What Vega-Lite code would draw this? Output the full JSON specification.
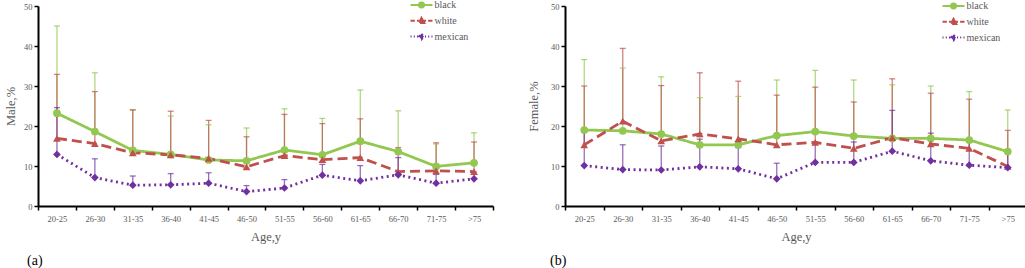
{
  "$schema": "https://vega.github.io/schema/vega-lite/v6.json",
  "padding": {"left": 4, "top": 0, "right": 0, "bottom": 0},
  "background": "white",
  "config": {
    "view": {"stroke": null},
    "font": "Liberation Serif",
    "axis": {
      "labelFont": "Liberation Serif", "labelFontSize": 8.5, "labelColor": "#595959",
      "titleFont": "Liberation Serif", "titleFontSize": 12.5, "titleColor": "#595959", "titleFontWeight": "normal",
      "domainColor": "#000000", "domainWidth": 2, "tickColor": "#000000", "tickWidth": 1.5, "tickSize": 4,
      "grid": false, "labelOverlap": false
    },
    "legend": {
      "orient": "none", "title": null, "labelFont": "Liberation Serif", "labelFontSize": 10, "labelColor": "#595959",
      "symbolSize": 49, "symbolStrokeWidth": 2, "rowPadding": 1.8, "labelOffset": 8
    }
  },
  "datasets": {
    "rates": [
      {"sex": "Male", "age": "20-25", "race": "black", "v": 23.2, "hi": 45.0},
      {"sex": "Male", "age": "26-30", "race": "black", "v": 18.6, "hi": 33.3},
      {"sex": "Male", "age": "31-35", "race": "black", "v": 13.9, "hi": 24.1},
      {"sex": "Male", "age": "36-40", "race": "black", "v": 12.9, "hi": 22.5},
      {"sex": "Male", "age": "41-45", "race": "black", "v": 11.5, "hi": 20.3},
      {"sex": "Male", "age": "46-50", "race": "black", "v": 11.3, "hi": 19.5},
      {"sex": "Male", "age": "51-55", "race": "black", "v": 14.0, "hi": 24.3},
      {"sex": "Male", "age": "56-60", "race": "black", "v": 12.8, "hi": 21.9},
      {"sex": "Male", "age": "61-65", "race": "black", "v": 16.2, "hi": 29.0},
      {"sex": "Male", "age": "66-70", "race": "black", "v": 13.6, "hi": 23.8},
      {"sex": "Male", "age": "71-75", "race": "black", "v": 9.9, "hi": 15.5},
      {"sex": "Male", "age": ">75", "race": "black", "v": 10.8, "hi": 18.3},
      {"sex": "Male", "age": "20-25", "race": "white", "v": 16.9, "hi": 32.9},
      {"sex": "Male", "age": "26-30", "race": "white", "v": 15.6, "hi": 28.6},
      {"sex": "Male", "age": "31-35", "race": "white", "v": 13.3, "hi": 24.0},
      {"sex": "Male", "age": "36-40", "race": "white", "v": 12.8, "hi": 23.7},
      {"sex": "Male", "age": "41-45", "race": "white", "v": 11.9, "hi": 21.4},
      {"sex": "Male", "age": "46-50", "race": "white", "v": 9.8, "hi": 17.3},
      {"sex": "Male", "age": "51-55", "race": "white", "v": 12.6, "hi": 22.9},
      {"sex": "Male", "age": "56-60", "race": "white", "v": 11.6, "hi": 20.6},
      {"sex": "Male", "age": "61-65", "race": "white", "v": 12.1, "hi": 21.8},
      {"sex": "Male", "age": "66-70", "race": "white", "v": 8.6, "hi": 14.6},
      {"sex": "Male", "age": "71-75", "race": "white", "v": 8.8, "hi": 15.8},
      {"sex": "Male", "age": ">75", "race": "white", "v": 8.6, "hi": 16.0},
      {"sex": "Male", "age": "20-25", "race": "mexican", "v": 12.9, "hi": 24.6},
      {"sex": "Male", "age": "26-30", "race": "mexican", "v": 7.1, "hi": 11.8},
      {"sex": "Male", "age": "31-35", "race": "mexican", "v": 5.2, "hi": 7.5},
      {"sex": "Male", "age": "36-40", "race": "mexican", "v": 5.3, "hi": 8.1},
      {"sex": "Male", "age": "41-45", "race": "mexican", "v": 5.7, "hi": 8.3},
      {"sex": "Male", "age": "46-50", "race": "mexican", "v": 3.6, "hi": 5.1},
      {"sex": "Male", "age": "51-55", "race": "mexican", "v": 4.5, "hi": 6.6},
      {"sex": "Male", "age": "56-60", "race": "mexican", "v": 7.7, "hi": 10.4},
      {"sex": "Male", "age": "61-65", "race": "mexican", "v": 6.3, "hi": 10.1},
      {"sex": "Male", "age": "66-70", "race": "mexican", "v": 7.8, "hi": 12.1},
      {"sex": "Male", "age": "71-75", "race": "mexican", "v": 5.7, "hi": 7.9},
      {"sex": "Male", "age": ">75", "race": "mexican", "v": 6.8, "hi": 8.5},
      {"sex": "Female", "age": "20-25", "race": "black", "v": 19.0, "hi": 36.6},
      {"sex": "Female", "age": "26-30", "race": "black", "v": 18.8, "hi": 34.5},
      {"sex": "Female", "age": "31-35", "race": "black", "v": 18.0, "hi": 32.3},
      {"sex": "Female", "age": "36-40", "race": "black", "v": 15.3, "hi": 27.1},
      {"sex": "Female", "age": "41-45", "race": "black", "v": 15.3, "hi": 27.4},
      {"sex": "Female", "age": "46-50", "race": "black", "v": 17.6, "hi": 31.5},
      {"sex": "Female", "age": "51-55", "race": "black", "v": 18.6, "hi": 33.9},
      {"sex": "Female", "age": "56-60", "race": "black", "v": 17.5, "hi": 31.5},
      {"sex": "Female", "age": "61-65", "race": "black", "v": 16.9, "hi": 30.3},
      {"sex": "Female", "age": "66-70", "race": "black", "v": 16.9, "hi": 30.0},
      {"sex": "Female", "age": "71-75", "race": "black", "v": 16.5, "hi": 28.6},
      {"sex": "Female", "age": ">75", "race": "black", "v": 13.6, "hi": 24.0},
      {"sex": "Female", "age": "20-25", "race": "white", "v": 15.3, "hi": 30.0},
      {"sex": "Female", "age": "26-30", "race": "white", "v": 21.2, "hi": 39.4},
      {"sex": "Female", "age": "31-35", "race": "white", "v": 16.3, "hi": 30.1},
      {"sex": "Female", "age": "36-40", "race": "white", "v": 18.0, "hi": 33.3},
      {"sex": "Female", "age": "41-45", "race": "white", "v": 16.8, "hi": 31.2},
      {"sex": "Female", "age": "46-50", "race": "white", "v": 15.3, "hi": 27.7},
      {"sex": "Female", "age": "51-55", "race": "white", "v": 15.9, "hi": 29.7},
      {"sex": "Female", "age": "56-60", "race": "white", "v": 14.4, "hi": 26.0},
      {"sex": "Female", "age": "61-65", "race": "white", "v": 17.1, "hi": 31.8},
      {"sex": "Female", "age": "66-70", "race": "white", "v": 15.5, "hi": 28.2},
      {"sex": "Female", "age": "71-75", "race": "white", "v": 14.4, "hi": 26.7},
      {"sex": "Female", "age": ">75", "race": "white", "v": 9.9, "hi": 18.9},
      {"sex": "Female", "age": "20-25", "race": "mexican", "v": 10.1, "hi": 18.5},
      {"sex": "Female", "age": "26-30", "race": "mexican", "v": 9.1, "hi": 15.3},
      {"sex": "Female", "age": "31-35", "race": "mexican", "v": 9.0, "hi": 15.0},
      {"sex": "Female", "age": "36-40", "race": "mexican", "v": 9.8, "hi": 16.7},
      {"sex": "Female", "age": "41-45", "race": "mexican", "v": 9.3, "hi": 14.6},
      {"sex": "Female", "age": "46-50", "race": "mexican", "v": 6.8, "hi": 10.7},
      {"sex": "Female", "age": "51-55", "race": "mexican", "v": 10.9, "hi": 16.0},
      {"sex": "Female", "age": "56-60", "race": "mexican", "v": 10.9, "hi": 16.0},
      {"sex": "Female", "age": "61-65", "race": "mexican", "v": 13.7, "hi": 23.9},
      {"sex": "Female", "age": "66-70", "race": "mexican", "v": 11.3, "hi": 18.2},
      {"sex": "Female", "age": "71-75", "race": "mexican", "v": 10.2, "hi": 16.0},
      {"sex": "Female", "age": ">75", "race": "mexican", "v": 9.6, "hi": 14.0}
    ]
  },
  "data": {"name": "rates"},
  "resolve": {
    "scale": {"color": "independent", "strokeDash": "independent"},
    "legend": {"color": "independent"}
  },
  "hconcat": [
    {
      "width": 455, "height": 200,
      "transform": [{"filter": "datum.sex === 'Male'"}],
      "title": {"text": "(a)", "orient": "bottom", "anchor": "start", "frame": "group", "dx": -11, "offset": 11, "fontSize": 14, "font": "Liberation Serif", "fontWeight": "normal", "color": "#000000"},
      "encoding": {
        "x": {"field": "age", "type": "nominal", "title": "Age,y",
          "scale": {"domain": ["20-25","26-30","31-35","36-40","41-45","46-50","51-55","56-60","61-65","66-70","71-75",">75"], "paddingInner": 0, "paddingOuter": 0},
          "axis": {"labelAngle": 0, "tickBand": "extent", "labelPadding": 4, "titlePadding": 8}},
        "y": {"field": "v", "type": "quantitative", "title": "Male,%", "scale": {"domain": [0, 50], "nice": false}, "axis": {"values": [0,10,20,30,40,50], "titlePadding": 6, "labelPadding": 2, "labelOverlap": false}},
        "color": {"field": "race", "type": "nominal", "scale": {"domain": ["black","white","mexican"], "range": ["#92c84f","#c0504d","#7030a0"]},
          "legend": {"legendX": 378.5, "legendY": -6,
               "encode": {"symbols": {"update": {
                 "shape": {"signal": "datum.value === 'black' ? 'M-3.14,0L3.14,0M0.75,0A0.75,0.75,0,1,1,-0.75,0A0.75,0.75,0,1,1,0.75,0Z' : datum.value === 'white' ? 'M-3.14,0L-1.9,0M-1.3,0L1.3,0M1.9,0L3.14,0M0,-0.85L0.8,0.6L-0.8,0.6Z' : 'M-3.14,0L-2.84,0M-2.2,0L-1.9,0M-1.3,0L-1.0,0M1.0,0L1.3,0M1.9,0L2.2,0M2.84,0L3.14,0M0,-0.8L0.7,0L0,0.8L-0.7,0Z'"},
                 "stroke": {"signal": "datum.value === 'black' ? '#92c84f' : datum.value === 'white' ? '#c0504d' : '#7030a0'"},
                 "fill": {"signal": "datum.value === 'black' ? '#92c84f' : datum.value === 'white' ? '#c0504d' : '#7030a0'"},
                 "strokeWidth": {"value": 2},
                 "strokeDash": {"value": []},
                 "opacity": {"value": 1}
               }}}}}
      },
      "layer": [
        {"mark": {"type": "rule", "strokeWidth": 1.3, "opacity": 0.7},
         "encoding": {"y2": {"field": "hi"}}},
        {"mark": {"type": "tick", "thickness": 1.3, "size": 6, "opacity": 0.7},
         "encoding": {"y": {"field": "hi", "type": "quantitative"}}},
        {"mark": {"type": "line", "strokeWidth": 2.8},
         "encoding": {
           "strokeDash": {"field": "race", "type": "nominal", "scale": {"domain": ["black","white","mexican"], "range": [[1,0],[10,5],[2,3.5]]}, "legend": null}
         }},
        {"transform": [{"filter": "datum.race === 'black'"}], "mark": {"type": "point", "shape": "circle", "filled": true, "size": 60, "opacity": 1}, "encoding": {}},
        {"transform": [{"filter": "datum.race === 'white'"}], "mark": {"type": "point", "shape": "triangle-up", "filled": true, "size": 60, "opacity": 1}, "encoding": {}},
        {"transform": [{"filter": "datum.race === 'mexican'"}], "mark": {"type": "point", "shape": "diamond", "filled": true, "size": 60, "opacity": 1}, "encoding": {}}
      ]
    },
    {
      "width": 462, "height": 200,
      "transform": [{"filter": "datum.sex === 'Female'"}],
      "title": {"text": "(b)", "orient": "bottom", "anchor": "start", "frame": "group", "dx": -15, "offset": 11, "fontSize": 14, "font": "Liberation Serif", "fontWeight": "normal", "color": "#000000"},
      "encoding": {
        "x": {"field": "age", "type": "nominal", "title": "Age,y",
          "scale": {"domain": ["20-25","26-30","31-35","36-40","41-45","46-50","51-55","56-60","61-65","66-70","71-75",">75"], "paddingInner": 0, "paddingOuter": 0},
          "axis": {"labelAngle": 0, "tickBand": "extent", "labelPadding": 4, "titlePadding": 8}},
        "y": {"field": "v", "type": "quantitative", "title": "Female,%", "scale": {"domain": [0, 50], "nice": false}, "axis": {"values": [0,10,20,30,40,50], "titlePadding": 10, "labelPadding": 2, "labelOverlap": false}},
        "color": {"field": "race", "type": "nominal", "scale": {"domain": ["black","white","mexican"], "range": ["#92c84f","#c0504d","#7030a0"]},
          "legend": {"legendX": 383.5, "legendY": -5,
               "encode": {"symbols": {"update": {
                 "shape": {"signal": "datum.value === 'black' ? 'M-3.14,0L3.14,0M0.75,0A0.75,0.75,0,1,1,-0.75,0A0.75,0.75,0,1,1,0.75,0Z' : datum.value === 'white' ? 'M-3.14,0L-1.9,0M-1.3,0L1.3,0M1.9,0L3.14,0M0,-0.85L0.8,0.6L-0.8,0.6Z' : 'M-3.14,0L-2.84,0M-2.2,0L-1.9,0M-1.3,0L-1.0,0M1.0,0L1.3,0M1.9,0L2.2,0M2.84,0L3.14,0M0,-0.8L0.7,0L0,0.8L-0.7,0Z'"},
                 "stroke": {"signal": "datum.value === 'black' ? '#92c84f' : datum.value === 'white' ? '#c0504d' : '#7030a0'"},
                 "fill": {"signal": "datum.value === 'black' ? '#92c84f' : datum.value === 'white' ? '#c0504d' : '#7030a0'"},
                 "strokeWidth": {"value": 2},
                 "strokeDash": {"value": []},
                 "opacity": {"value": 1}
               }}}}}
      },
      "layer": [
        {"mark": {"type": "rule", "strokeWidth": 1.3, "opacity": 0.7},
         "encoding": {"y2": {"field": "hi"}}},
        {"mark": {"type": "tick", "thickness": 1.3, "size": 6, "opacity": 0.7},
         "encoding": {"y": {"field": "hi", "type": "quantitative"}}},
        {"mark": {"type": "line", "strokeWidth": 2.8},
         "encoding": {
           "strokeDash": {"field": "race", "type": "nominal", "scale": {"domain": ["black","white","mexican"], "range": [[1,0],[10,5],[2,3.5]]}, "legend": null}
         }},
        {"transform": [{"filter": "datum.race === 'black'"}], "mark": {"type": "point", "shape": "circle", "filled": true, "size": 60, "opacity": 1}, "encoding": {}},
        {"transform": [{"filter": "datum.race === 'white'"}], "mark": {"type": "point", "shape": "triangle-up", "filled": true, "size": 60, "opacity": 1}, "encoding": {}},
        {"transform": [{"filter": "datum.race === 'mexican'"}], "mark": {"type": "point", "shape": "diamond", "filled": true, "size": 60, "opacity": 1}, "encoding": {}}
      ]
    }
  ],
  "spacing": 72,
  "bounds": "flush"
}
